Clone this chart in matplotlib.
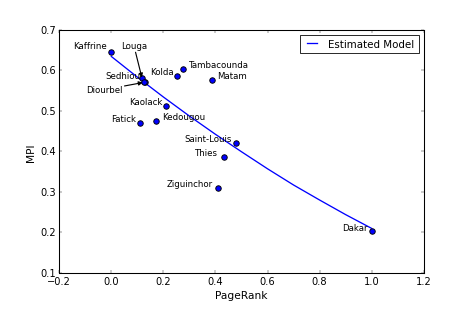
import matplotlib
matplotlib.use("Agg")
import matplotlib.pyplot as plt

# regions: PageRank vs MPI
names = ["Kaffrine", "Louga", "Sedhiou", "Diourbel", "Kolda", "Tambacounda",
         "Matam", "Kaolack", "Fatick", "Kedougou", "Saint-Louis", "Thies",
         "Ziguinchor", "Dakar"]
pagerank = [0.000, 0.118, 0.131, 0.124, 0.252, 0.277,
            0.387, 0.211, 0.109, 0.172, 0.480, 0.433,
            0.411, 1.000]
mpi = [0.646, 0.580, 0.572, 0.570, 0.586, 0.604,
       0.577, 0.512, 0.470, 0.475, 0.420, 0.386,
       0.310, 0.204]

# estimated model curve
model_x = [0.0, 0.1, 0.2, 0.3, 0.4, 0.5, 0.6, 0.7, 0.8, 0.9, 1.0]
model_y = [0.634, 0.583, 0.534, 0.487, 0.442, 0.399, 0.357, 0.317, 0.280, 0.244, 0.210]

# label placement: (dx, dy) in points, horizontal alignment
place = {
    "Kaffrine": (-6, 4, "right"),
    "Sedhiou": (-6, 4, "right"),
    "Kolda": (-4, 2.5, "right"),
    "Tambacounda": (7, 2, "left"),
    "Matam": (6.5, 2.5, "left"),
    "Kaolack": (-5, 2, "right"),
    "Fatick": (-5, 3, "right"),
    "Kedougou": (7, 2.5, "left"),
    "Saint-Louis": (-5, 2.5, "right"),
    "Thies": (-7, 3, "right"),
    "Ziguinchor": (-6.5, 2, "right"),
    "Dakar": (-5, 1.2, "right"),
}

plt.style.use("classic")
fig = plt.figure(figsize=(8, 5.3333), dpi=58.875)
ax = fig.add_axes([0.1259, 0.1274, 0.7737, 0.7748])

ax.scatter(pagerank, mpi, s=45, c="b", edgecolors="k", lw=1.1, zorder=3)
ax.plot(model_x, model_y, color="b", lw=1.6, label="Estimated Model")

for n, x, y in zip(names, pagerank, mpi):
    if n in place:
        dx, dy, ha = place[n]
        ax.annotate(n, xy=(x, y), xytext=(dx, dy), textcoords="offset points",
                    ha=ha, va="baseline", fontsize=10.5)

arrow = dict(arrowstyle="-|>", color="k", lw=1.4, mutation_scale=10, shrinkA=0, shrinkB=1)
i = names.index("Louga")
ax.annotate("Louga", xy=(pagerank[i], mpi[i]), xytext=(-10, 37), textcoords="offset points",
            ha="center", va="baseline", fontsize=10.5, arrowprops=arrow)
i = names.index("Diourbel")
ax.annotate("Diourbel", xy=(pagerank[i], mpi[i]), xytext=(-26, -12), textcoords="offset points",
            ha="right", va="baseline", fontsize=10.5, arrowprops=arrow)

ax.set_xlim(-0.2, 1.2)
ax.set_ylim(0.1, 0.7)
ax.set_xlabel("PageRank", fontsize=13)
ax.set_ylabel("MPI", fontsize=13)
for sp in ax.spines.values():
    sp.set_linewidth(1.3)
ax.legend(loc="upper right", fontsize=12.5, handlelength=1.6)

fig.savefig("out.png", dpi=58.875)
